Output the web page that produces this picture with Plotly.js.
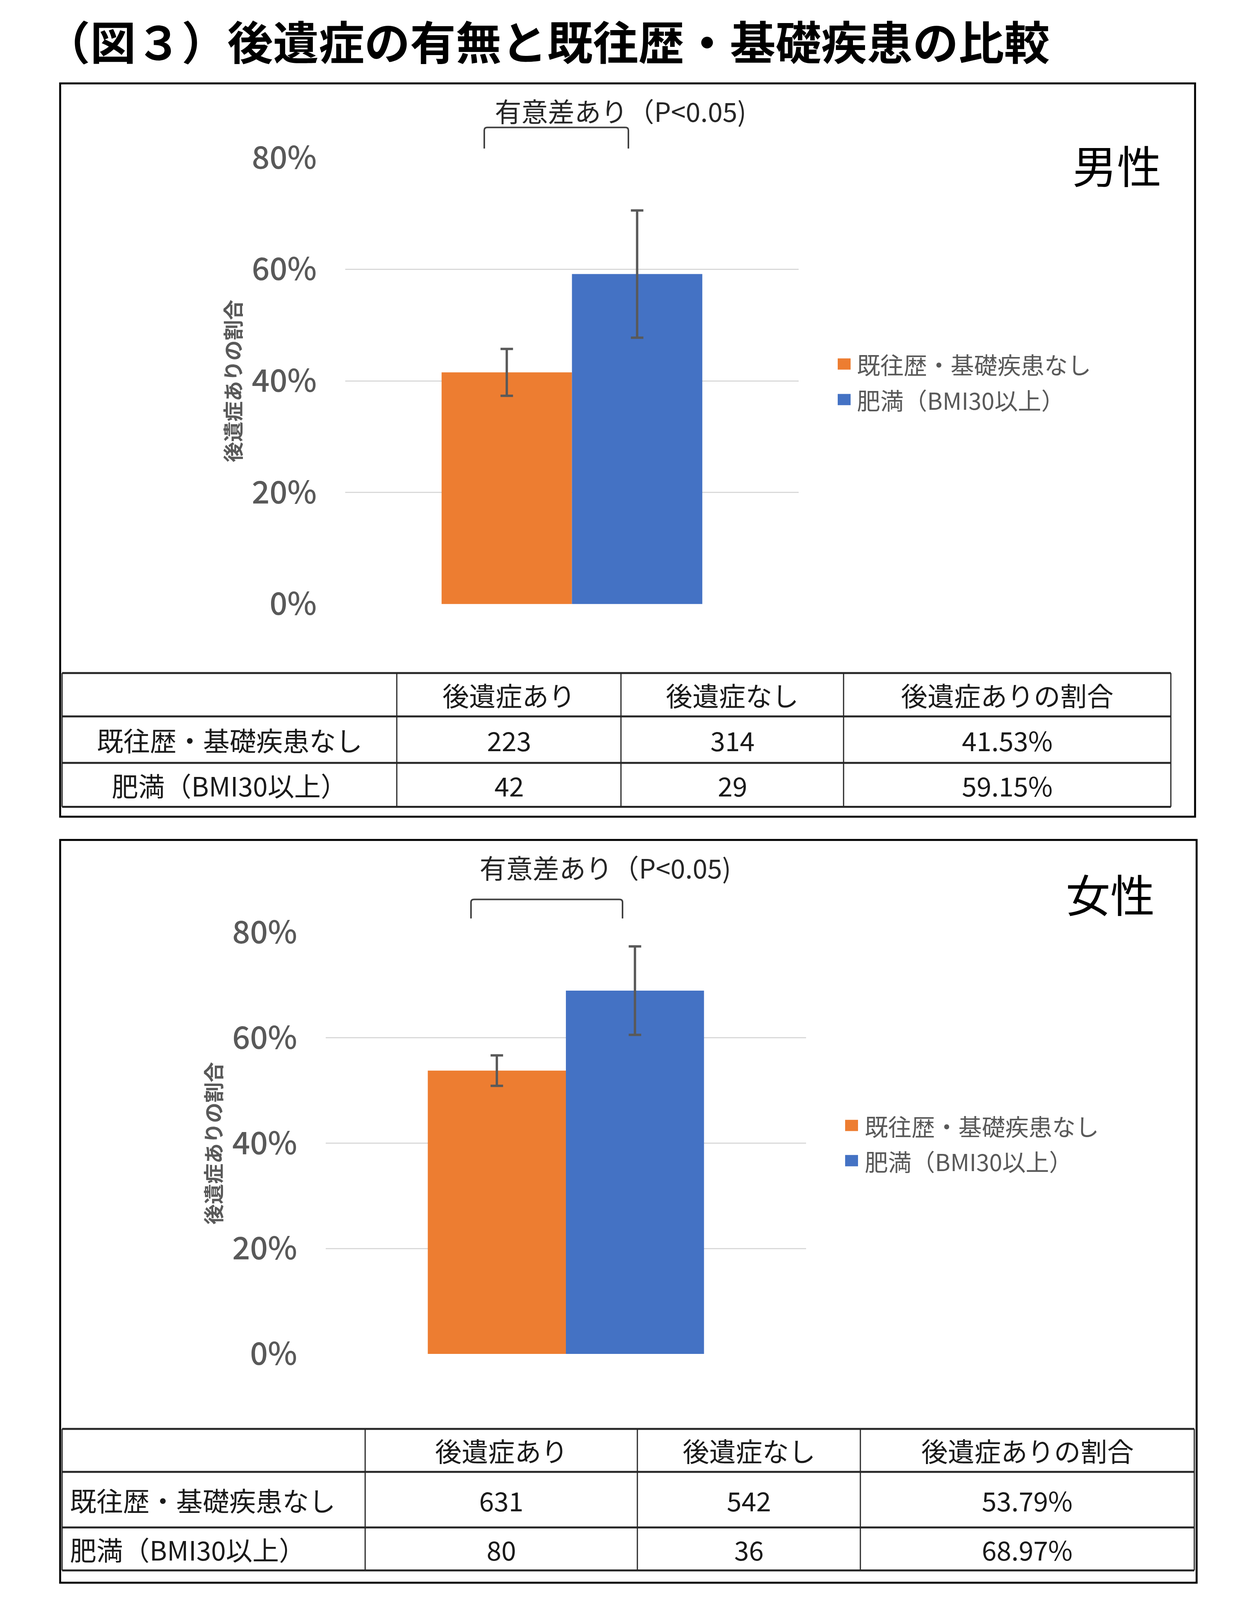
<!DOCTYPE html>
<html><head><meta charset="utf-8">
<script src="https://cdn.plot.ly/plotly-3.0.1.min.js"></script>
<style>html,body{margin:0;padding:0;background:#fff;overflow:hidden}</style>
</head><body><div id="chart" style="width:3193px;height:4096px"></div>
<script>
// ---------- data ----------
const mainTitle = '（図３）後遺症の有無と既往歴・基礎疾患の比較';
const seriesNames = ['既往歴・基礎疾患なし', '肥満（BMI30以上）'];
const category = ['全体'];
const maleRate = [0.4153, 0.5915];
const maleErr = [0.042, 0.114];
const femaleRate = [0.5379, 0.6897];
const femaleErr = [0.029, 0.084];
const yTitle = '後遺症ありの割合';
const panelLabels = ['男性', '女性'];
const sigLabel = '有意差あり（P&lt;0.05)';
const tableHeader = ['', '後遺症あり', '後遺症なし', '後遺症ありの割合'];
const maleWith = [223, 42];
const maleWithout = [314, 29];
const maleRatio = ['41.53%', '59.15%'];
const femaleWith = [631, 80];
const femaleWithout = [542, 36];
const femaleRatio = ['53.79%', '68.97%'];

// ---------- styles / layout constants ----------
const seriesColors = ['#ED7D31', '#4472C4'];
const W = 3193, H = 4545;                 // reference design grid
const VW = 3193;
const VH = (window.innerHeight && window.innerHeight > 500) ? Math.min(window.innerHeight, H) : H;
const k = VH / H;                          // vertical fit factor
const px = x => x / W, py = y => 1 - y / H;
const CJK = '"Noto Sans CJK JP", "Noto Sans CJK SC", sans-serif';
const GRAY = '#595959';
document.getElementById('chart').style.height = VH + 'px';

const panels = [
  {rate: maleRate, err: maleErr, withS: maleWith, withoutS: maleWithout, ratio: maleRatio,
   box: [154, 237, 3060, 2320], plotX: [884, 2045], plotY: [448, 1716],
   sig: [1589, 314], bracket: [1240, 1609, 362, 422], label: [2860, 466],
   legendX: [2145, 2178, 2192], legendY: [1034, 1135],
   tx: [159, 1016, 1590, 2160, 2998], ty: [1912, 2035, 2167, 2292], firstAlign: 'center'},
  {rate: femaleRate, err: femaleErr, withS: femaleWith, withoutS: femaleWithout, ratio: femaleRatio,
   box: [154, 2386, 3064, 4496], plotX: [834, 2064], plotY: [2649, 3846],
   sig: [1550, 2463], bracket: [1206, 1594, 2555, 2609], label: [2843, 2536],
   legendX: [2164, 2197, 2212], legendY: [3197, 3297],
   tx: [159, 935, 1632, 2203, 3058], ty: [4059, 4181, 4339, 4461], firstAlign: 'left'}
];

const traces = [];
const shapes = [];
const annotations = [];
const layout = {
  width: VW, height: VH,
  margin: {l: 0, r: 0, t: 0, b: 0},
  paper_bgcolor: '#ffffff', plot_bgcolor: '#ffffff',
  showlegend: false,
  barmode: 'group', bargap: 0.425, bargroupgap: 0,
  title: {
    text: mainTitle, x: px(114), xref: 'paper', xanchor: 'left',
    y: 1 - 124 / H, yref: 'container', yanchor: 'middle',
    font: {family: CJK, size: 117, color: '#000000', weight: 700}
  }
};

panels.forEach((p, i) => {
  const xa = i === 0 ? 'x' : 'x2', ya = i === 0 ? 'y' : 'y2';
  const xk = i === 0 ? 'xaxis' : 'xaxis2', yk = i === 0 ? 'yaxis' : 'yaxis2';
  seriesNames.forEach((name, s) => {
    traces.push({
      type: 'bar', name: name, x: category, y: [p.rate[s]],
      xaxis: xa, yaxis: ya,
      marker: {color: seriesColors[s], line: {width: 0}},
      error_y: {type: 'data', array: [p.err[s]], visible: true, color: GRAY, thickness: 6, width: 16},
      hoverinfo: 'skip'
    });
  });
  layout[xk] = {
    domain: [px(p.plotX[0]), px(p.plotX[1])], anchor: ya,
    showticklabels: false, showgrid: false, zeroline: false, showline: false, ticks: '', fixedrange: true
  };
  layout[yk] = {
    domain: [py(p.plotY[1]), py(p.plotY[0])], anchor: xa,
    range: [0, 0.8], dtick: 0.2, tick0: 0, tickformat: '.0%',
    showgrid: true, gridcolor: '#D9D9D9', gridwidth: 3,
    zeroline: false, showline: false, ticks: '', ticklabelstandoff: 72,
    tickfont: {family: CJK, size: 80, color: GRAY, weight: 500},
    title: {text: yTitle, standoff: 10, font: {family: CJK, size: Math.round(58 * k), color: GRAY, weight: 700}},
    fixedrange: true
  };

  // outer frame
  shapes.push({type: 'rect', xref: 'paper', yref: 'paper',
    x0: px(p.box[0]), x1: px(p.box[2]), y0: py(p.box[3]), y1: py(p.box[1]),
    line: {color: '#000000', width: 5}, fillcolor: 'rgba(0,0,0,0)'});

  // significance bracket
  const [bx0, bx1, byt, byb] = p.bracket, r = 8;
  shapes.push({type: 'path', xref: 'paper', yref: 'paper',
    path: `M${px(bx0)},${py(byb)} L${px(bx0)},${py(byt + r)} Q${px(bx0)},${py(byt)} ${px(bx0 + r)},${py(byt)} ` +
          `L${px(bx1 - r)},${py(byt)} Q${px(bx1)},${py(byt)} ${px(bx1)},${py(byt + r)} L${px(bx1)},${py(byb)}`,
    line: {color: '#404040', width: 4}});
  annotations.push({xref: 'paper', yref: 'paper', x: px(p.sig[0]), y: py(p.sig[1]),
    text: sigLabel, showarrow: false, xanchor: 'center', yanchor: 'middle',
    font: {family: CJK, size: 68, color: '#262626'}});

  // panel label
  annotations.push({xref: 'paper', yref: 'paper', x: px(p.label[0]), y: py(p.label[1]),
    text: panelLabels[i], showarrow: false, xanchor: 'center', yanchor: 'middle',
    font: {family: CJK, size: 114, color: '#000000', weight: 400}});

  // legend (manual, large swatches)
  seriesNames.forEach((name, s) => {
    const cy = p.legendY[s], half = 16;
    shapes.push({type: 'rect', xref: 'paper', yref: 'paper',
      x0: px(p.legendX[0]), x1: px(p.legendX[1]), y0: py(cy + half), y1: py(cy - half),
      line: {width: 0}, fillcolor: seriesColors[s]});
    annotations.push({xref: 'paper', yref: 'paper', x: px(p.legendX[2]), y: py(cy),
      text: name, showarrow: false, xanchor: 'left', yanchor: 'middle',
      font: {family: CJK, size: 60, color: GRAY}});
  });

  // table grid
  const tx = p.tx, ty = p.ty;
  ty.forEach(y => shapes.push({type: 'line', xref: 'paper', yref: 'paper',
    x0: px(tx[0]), x1: px(tx[tx.length - 1]), y0: py(y), y1: py(y),
    line: {color: '#262626', width: 5}}));
  tx.forEach(x => shapes.push({type: 'line', xref: 'paper', yref: 'paper',
    x0: px(x), x1: px(x), y0: py(ty[0]), y1: py(ty[ty.length - 1]),
    line: {color: '#262626', width: 3}}));

  const cellFont = {family: CJK, size: 68, color: '#1a1a1a'};
  const colC = c => (tx[c] + tx[c + 1]) / 2;
  const rowC = rr => (ty[rr] + ty[rr + 1]) / 2;
  tableHeader.forEach((h, c) => {
    if (!h) return;
    annotations.push({xref: 'paper', yref: 'paper', x: px(colC(c)), y: py(rowC(0)),
      text: h, showarrow: false, xanchor: 'center', yanchor: 'middle', font: cellFont});
  });
  seriesNames.forEach((name, s) => {
    const cells = [name, String(p.withS[s]), String(p.withoutS[s]), p.ratio[s]];
    cells.forEach((t, c) => {
      const left = (c === 0 && p.firstAlign === 'left');
      annotations.push({xref: 'paper', yref: 'paper',
        x: left ? px(tx[0] + 18) : px(colC(c)), y: py(rowC(s + 1)),
        text: t, showarrow: false, xanchor: left ? 'left' : 'center', yanchor: 'middle', font: cellFont});
    });
  });
});

layout.shapes = shapes;
layout.annotations = annotations;
Plotly.newPlot('chart', traces, layout, {staticPlot: true, displayModeBar: false});
</script></body></html>
